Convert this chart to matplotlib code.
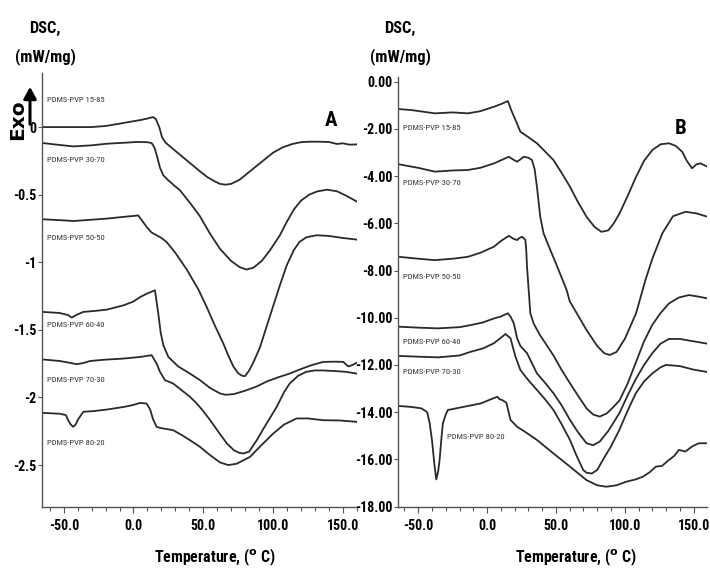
import os
import matplotlib
matplotlib.use('Agg')
import matplotlib.pyplot as plt
from matplotlib import font_manager as fm
from matplotlib.ticker import MultipleLocator, FixedLocator, FuncFormatter

# ---------------- data: panel A ----------------
series_names = ["PDMS-PVP 15-85", "PDMS-PVP 30-70", "PDMS-PVP 50-50",
                "PDMS-PVP 60-40", "PDMS-PVP 70-30", "PDMS-PVP 80-20"]

a1_t = [-65, -45, -30, -20, -10, -2, 5, 10, 14, 16, 18.5, 20.5, 23, 27, 34, 41, 48, 53, 58, 62, 66, 70, 76, 82, 88, 94, 100, 107, 114, 120, 126, 131, 140, 146, 150, 155, 160]
a1_v = [0, 0, 0.0, 0.008, 0.025, 0.04, 0.052, 0.063, 0.074, 0.06, 0.0, -0.075, -0.115, -0.15, -0.21, -0.27, -0.33, -0.37, -0.40, -0.42, -0.426, -0.42, -0.39, -0.34, -0.29, -0.24, -0.19, -0.15, -0.125, -0.112, -0.108, -0.108, -0.11, -0.125, -0.12, -0.13, -0.128]

a2_t = [-65, -55, -43, -30, -19, -5, 2.3, 10, 13, 15, 17, 19, 21.4, 25, 29, 33.4, 40.5, 47.7, 51, 55, 62, 70, 76, 81, 86, 92, 98, 105, 110, 115, 120, 126, 132, 139, 146, 153, 160]
a2_v = [-0.118, -0.13, -0.143, -0.135, -0.123, -0.115, -0.11, -0.112, -0.118, -0.15, -0.22, -0.30, -0.357, -0.394, -0.43, -0.468, -0.56, -0.66, -0.72, -0.79, -0.90, -0.99, -1.035, -1.054, -1.04, -0.99, -0.91, -0.80, -0.70, -0.61, -0.545, -0.50, -0.475, -0.463, -0.475, -0.51, -0.55]

a3_t = [-65, -50, -43, -30, -19, -8, 2.3, 3.4, 6, 9.5, 13, 16.6, 20, 23.8, 30, 38, 46.5, 52.5, 58, 64.4, 68, 71.6, 75, 78, 80, 83, 86, 90.7, 95, 100, 105, 110, 115, 119, 124, 131.4, 140, 150, 160]
a3_v = [-0.682, -0.69, -0.695, -0.685, -0.677, -0.665, -0.655, -0.653, -0.69, -0.739, -0.78, -0.80, -0.82, -0.85, -0.93, -1.05, -1.2, -1.33, -1.46, -1.6, -1.69, -1.77, -1.82, -1.84, -1.842, -1.80, -1.74, -1.63, -1.49, -1.33, -1.17, -1.02, -0.91, -0.85, -0.815, -0.80, -0.805, -0.82, -0.832]

a4_t = [-65, -53, -47, -44.3, -41, -36, -28, -19, -7, 0, 5, 10, 15.4, 17.8, 19.5, 21.4, 25, 32, 40.5, 47.7, 55, 62, 66, 72, 80, 88, 96, 104, 112, 120, 128, 136, 145, 150.5, 154, 157, 160]
a4_v = [-1.367, -1.375, -1.39, -1.409, -1.39, -1.367, -1.36, -1.35, -1.318, -1.29, -1.256, -1.23, -1.207, -1.379, -1.52, -1.613, -1.70, -1.77, -1.823, -1.872, -1.93, -1.97, -1.98, -1.975, -1.95, -1.92, -1.88, -1.85, -1.823, -1.79, -1.76, -1.737, -1.735, -1.737, -1.77, -1.76, -1.744]

a5_t = [-65, -53, -45, -40.7, -36, -31, -20, -7, 5, 13, 16.6, 19, 22.6, 28.5, 35, 40, 45, 50, 55, 62, 67, 72, 76, 79, 83, 88.4, 95, 102.7, 108, 112, 118, 124, 130, 136, 145, 152, 160]
a5_v = [-1.719, -1.73, -1.745, -1.754, -1.745, -1.73, -1.72, -1.712, -1.70, -1.687, -1.749, -1.81, -1.872, -1.897, -1.95, -1.99, -2.04, -2.10, -2.168, -2.27, -2.34, -2.39, -2.41, -2.414, -2.40, -2.316, -2.2, -2.07, -1.96, -1.897, -1.84, -1.81, -1.80, -1.80, -1.805, -1.81, -1.823]

a6_t = [-65, -53, -48.5, -46.8, -45, -43.2, -41.5, -39.6, -36, -28, -19, -7, 0, 4.7, 9.5, 12, 14, 16.6, 19, 21.4, 28.5, 35, 40.5, 47.7, 54.9, 62, 68, 74, 83.6, 92, 100.3, 108, 117, 125, 136, 148, 160]
a6_v = [-2.114, -2.12, -2.13, -2.168, -2.20, -2.217, -2.20, -2.16, -2.106, -2.10, -2.089, -2.07, -2.055, -2.04, -2.045, -2.09, -2.16, -2.217, -2.225, -2.229, -2.242, -2.28, -2.316, -2.365, -2.426, -2.48, -2.50, -2.49, -2.439, -2.35, -2.266, -2.20, -2.155, -2.155, -2.168, -2.17, -2.18]

# ---------------- data: panel B ----------------
b1_t = [-64, -55, -38, -25, -14, -5, 5, 10, 15.1, 17.5, 20.6, 24.2, 30, 36.2, 42, 48.2, 54, 60.2, 66, 72.2, 78, 83, 88, 92, 96.2, 102, 108.2, 114, 120.1, 126, 132.2, 137, 141.7, 145, 148.9, 152, 154.9, 160]
b1_v = [-1.16, -1.2, -1.34, -1.3, -1.34, -1.25, -1.06, -0.95, -0.82, -1.2, -1.62, -2.12, -2.35, -2.61, -2.95, -3.32, -3.85, -4.45, -5.1, -5.72, -6.15, -6.36, -6.3, -6.0, -5.58, -4.85, -4.03, -3.35, -2.89, -2.65, -2.61, -2.72, -2.97, -3.35, -3.67, -3.5, -3.46, -3.6]

b2_t = [-64, -50, -38, -25, -14, -5, 5, 15.8, 19, 21.8, 24, 26.6, 30, 32.6, 34.5, 36.2, 38.6, 41, 45, 50, 57.8, 60, 66, 72.2, 80, 85, 89, 94, 100, 108.2, 115, 120, 127.3, 135, 144.1, 152, 160]
b2_v = [-3.5, -3.65, -3.81, -3.76, -3.74, -3.65, -3.46, -3.18, -3.3, -3.39, -3.3, -3.18, -3.22, -3.32, -3.7, -4.45, -5.72, -6.42, -7.0, -7.7, -8.83, -9.3, -9.9, -10.52, -11.2, -11.5, -11.58, -11.45, -10.9, -9.81, -8.4, -7.5, -6.42, -5.7, -5.51, -5.58, -5.72]

b3_t = [-64, -50, -38, -25, -14, -5, 5, 10, 15.8, 19, 21.8, 23.5, 25.4, 27, 27.8, 28.5, 29, 30.2, 31.4, 33.8, 38, 42, 48.2, 54, 60.2, 66, 72.2, 77, 81.8, 87, 91.4, 96.2, 102, 108, 114, 120, 126, 132, 139, 146.5, 153, 160]
b3_v = [-7.42, -7.5, -7.56, -7.5, -7.42, -7.25, -6.99, -6.75, -6.53, -6.65, -6.71, -6.62, -6.57, -6.65, -6.71, -7.2, -7.84, -8.83, -9.81, -10.24, -10.7, -11.05, -11.6, -12.2, -12.78, -13.3, -13.84, -14.1, -14.19, -14.05, -13.8, -13.5, -12.8, -11.9, -11.0, -10.3, -9.8, -9.4, -9.15, -9.04, -9.1, -9.18]

b4_t = [-64, -50, -35.7, -20, -11.7, -3, 5, 10, 15.1, 17, 19.4, 21.8, 24.2, 29, 36.2, 42, 48.2, 54, 60.2, 66, 72.2, 77, 81.8, 88, 96, 102, 108, 114, 120, 126, 132, 140, 150, 160]
b4_v = [-10.38, -10.42, -10.45, -10.4, -10.31, -10.2, -10.03, -9.95, -9.81, -9.95, -10.24, -10.87, -11.2, -11.5, -12.36, -12.75, -13.2, -13.7, -14.33, -14.85, -15.32, -15.4, -15.25, -14.8, -14.05, -13.3, -12.6, -12.0, -11.5, -11.1, -10.9, -10.9, -11.0, -11.1]

b5_t = [-64, -50, -35.7, -20, -11.7, -3, 5, 10, 13.4, 17, 20.6, 24.2, 30, 36.2, 42, 48.2, 54, 60.2, 65, 69.8, 72.2, 76, 80, 84, 90, 96, 102, 108, 114, 120, 126, 130, 140, 150, 160]
b5_v = [-11.62, -11.65, -11.68, -11.6, -11.44, -11.3, -11.08, -10.85, -10.69, -10.87, -11.65, -12.22, -12.65, -13.06, -13.45, -13.91, -14.5, -15.18, -15.85, -16.45, -16.57, -16.6, -16.45, -16.03, -15.45, -14.76, -13.95, -13.2, -12.7, -12.36, -12.1, -12.0, -12.05, -12.2, -12.3]

b6_t = [-64, -55, -47.7, -43.5, -41.7, -40, -38.1, -36.9, -35.5, -34.5, -33, -32.1, -30, -28.5, -16.5, -4.5, 3, 7.4, 9, 11, 14, 17, 21.8, 28, 36.2, 48.2, 60.2, 72.2, 80, 86.6, 94, 101, 108, 113, 118, 122.5, 127, 132, 136, 139.3, 144, 149, 153.7, 160]
b6_v = [-13.74, -13.78, -13.84, -14.0, -14.47, -15.2, -16.31, -16.85, -16.5, -16.03, -15.0, -14.47, -14.1, -13.91, -13.77, -13.63, -13.45, -13.35, -13.45, -13.49, -13.6, -14.33, -14.62, -14.85, -15.18, -15.75, -16.31, -16.88, -17.1, -17.16, -17.1, -16.95, -16.85, -16.74, -16.55, -16.31, -16.28, -16.03, -15.85, -15.6, -15.67, -15.45, -15.32, -15.32]

# label anchor positions (data coords)
a_label_t = [-62, -62, -62, -62, -62, -62]
a_label_v = [0.197, -0.246, -0.823, -1.466, -1.872, -2.338]
b_label_t = [-61, -61, -61, -61, -61, -28.8]
b_label_v = [-1.96, -4.29, -8.28, -11.03, -12.3, -15.05]

a_yticks = [0, -0.5, -1, -1.5, -2, -2.5]
a_yticklabels = ["0", "-0.5", "-1", "-1.5", "-2", "-2.5"]
b_yticks = [0, -2, -4, -6, -8, -10, -12, -14, -16, -18]
x_ticks = [-50, 0, 50, 100, 150]

# ---------------- fonts ----------------
def find_narrow():
    reg, bold = None, None
    for f in fm.fontManager.ttflist:
        n = os.path.basename(f.fname).lower()
        key = n.replace('-', '').replace(' ', '').replace('_', '')
        if 'liberationsansnarrow' in key or 'robotocondensed' in key:
            if 'italic' in n:
                continue
            if 'bold' in n and 'semi' not in n and 'extra' not in n and bold is None:
                bold = f.fname
            elif 'regular' in n and reg is None:
                reg = f.fname
    return reg, bold

_reg, _bold = find_narrow()
if _reg and _bold:
    FP_REG = fm.FontProperties(fname=_reg)
    FP_BOLD = fm.FontProperties(fname=_bold)
    SZ = dict(tick=10.0, xlab=11.4, dsc=11.8, lab=6.1)
else:
    FP_REG = fm.FontProperties(family=['Liberation Sans', 'DejaVu Sans'])
    FP_BOLD = fm.FontProperties(family=['Liberation Sans', 'DejaVu Sans'], weight='bold')
    SZ = dict(tick=9.3, xlab=10.5, dsc=11.0, lab=5.6)

def fp(base, size):
    p = base.copy()
    p.set_size(size)
    return p

LINE_C = '#2a2a2a'
TXT_C = '#333333'

fig = plt.figure(figsize=(7.1, 5.72), dpi=100)
axA = fig.add_axes([42/710, 1-507/572, (357-42)/710, (507-73)/572])
axB = fig.add_axes([398/710, 1-507/572, (707-398)/710, (507-77)/572])

def style(ax, xlim, ylim):
    ax.set_xlim(*xlim)
    ax.set_ylim(*ylim)
    for s in ('top', 'right'):
        ax.spines[s].set_visible(False)
    for s in ('left', 'bottom'):
        ax.spines[s].set_color('#555555')
        ax.spines[s].set_linewidth(1.0)
    ax.xaxis.set_major_locator(FixedLocator(x_ticks))
    ax.xaxis.set_minor_locator(MultipleLocator(10))
    ax.xaxis.set_major_formatter(FuncFormatter(lambda v, p: f"{v:.1f}"))
    ax.tick_params(axis='x', which='major', length=4, width=0.8, color='#555555', pad=5)
    ax.tick_params(axis='x', which='minor', length=3, width=0.8, color='#555555')
    ax.tick_params(axis='y', which='major', length=3, width=0.8, color='#555555', pad=1)
    for lab in ax.get_xticklabels() + ax.get_yticklabels():
        lab.set_fontproperties(fp(FP_BOLD, SZ['tick']))

# Panel A
for t, v in zip([a1_t, a2_t, a3_t, a4_t, a5_t, a6_t], [a1_v, a2_v, a3_v, a4_v, a5_v, a6_v]):
    axA.plot(t, v, color=LINE_C, lw=1.3, solid_joinstyle='round')
axA.set_yticks(a_yticks)
axA.set_yticklabels(a_yticklabels)
style(axA, (-65.6, 160.3), (-2.81, 0.40))
for name, t, v in zip(series_names, a_label_t, a_label_v):
    axA.text(t, v, name, fontproperties=fp(FP_REG, SZ['lab']), color=TXT_C, ha='left', va='center')
axA.text(0.918, 0.89, "A", transform=axA.transAxes, fontproperties=fp(FP_BOLD, 15),
         ha='center', va='center')

# Panel B
for t, v in zip([b1_t, b2_t, b3_t, b4_t, b5_t, b6_t], [b1_v, b2_v, b3_v, b4_v, b5_v, b6_v]):
    axB.plot(t, v, color=LINE_C, lw=1.3, solid_joinstyle='round')
axB.set_yticks(b_yticks)
axB.yaxis.set_major_formatter(FuncFormatter(lambda v, p: f"{v:.2f}"))
style(axB, (-64.7, 159.7), (-18.02, 0.2))
for name, t, v in zip(series_names, b_label_t, b_label_v):
    axB.text(t, v, name, fontproperties=fp(FP_REG, SZ['lab']), color=TXT_C, ha='left', va='center')
axB.text(0.915, 0.88, "B", transform=axB.transAxes, fontproperties=fp(FP_BOLD, 15),
         ha='center', va='center')

# x-axis titles
for xc in (215/710, 576/710):
    fig.text(xc, 1-557/572, "Temperature, ($^{\\mathbf{o}}$ C)", fontproperties=fp(FP_BOLD, SZ['xlab']),
             ha='center', va='center')

# DSC axis titles
for xc in (45/710, 400/710):
    fig.text(xc, 1-28/572, "DSC,", fontproperties=fp(FP_BOLD, SZ['dsc']), ha='center', va='center')
    fig.text(xc, 1-57/572, "(mW/mg)", fontproperties=fp(FP_BOLD, SZ['dsc']), ha='center', va='center')

# Exo arrow
fig.text(18/710, 1-120/572, "Exo", rotation=90, fontsize=14.5, fontweight='bold',
         family=['DejaVu Sans'], ha='center', va='center')
fig.patches.append(matplotlib.patches.FancyArrowPatch(
    (30/710, 1-127/572), (30/710, 1-84/572), transform=fig.transFigure,
    arrowstyle='-|>,head_length=7,head_width=3.8', lw=2.2, color='black', mutation_scale=1))

fig.savefig("out.png", dpi=100)
